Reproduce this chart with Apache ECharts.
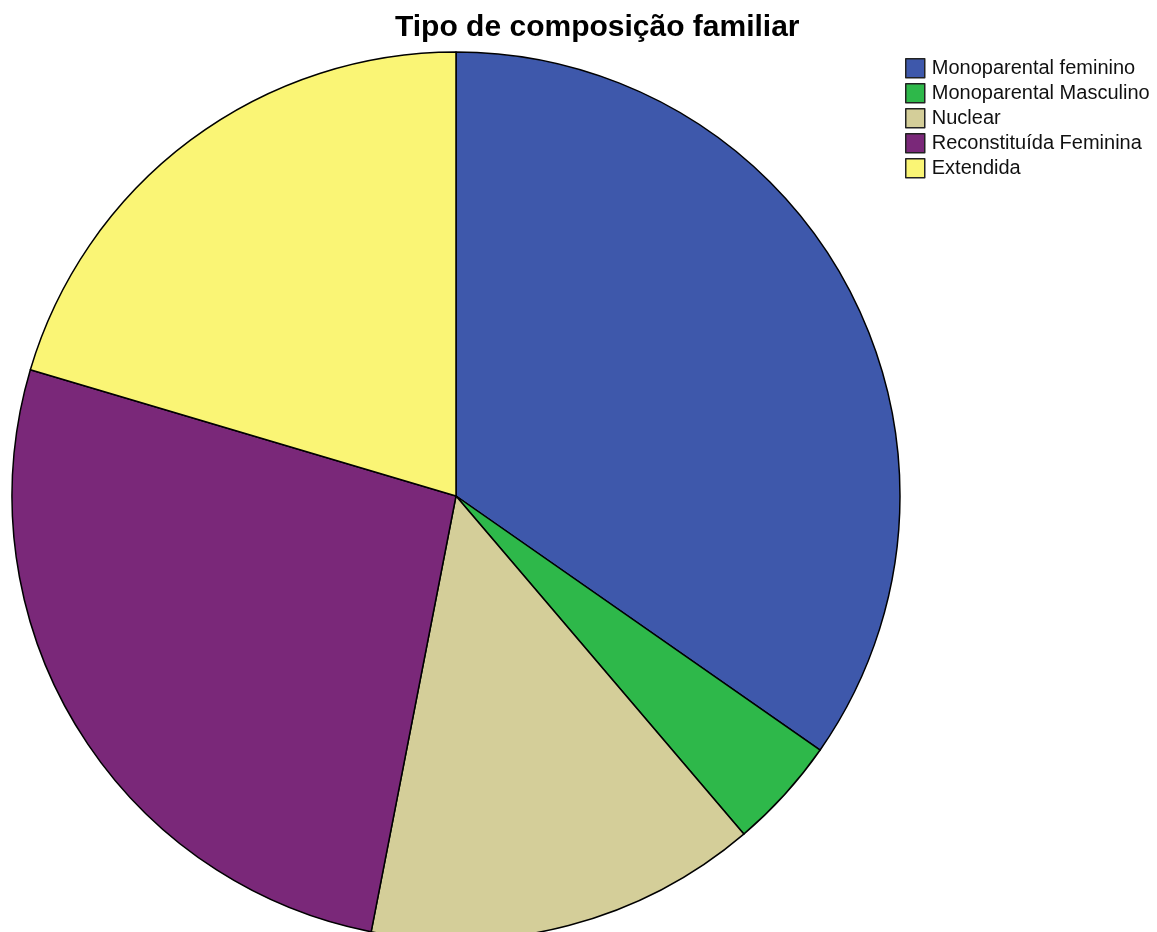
<!DOCTYPE html>
<html>
<head>
<meta charset="utf-8">
<style>
  html, body { margin: 0; padding: 0; background: #fff; }
  #chart { width: 1157px; height: 932px; }
</style>
<script src="https://cdn.jsdelivr.net/npm/echarts@6/dist/echarts.min.js"></script>
</head>
<body>
<div id="chart"></div>
<script>
// categorias e contagens
var categories = ['Monoparental feminino', 'Monoparental Masculino', 'Nuclear', 'Reconstituída Feminina', 'Extendida']
var counts = [17, 2, 7, 13, 10]
var colors = ['#3E58AB', '#2EB84A', '#D4CE99', '#7A2879', '#FAF575']

var chart = echarts.init(document.getElementById('chart'))
var option = {
  animation: false,
  backgroundColor: '#fff',
  color: colors,
  title: {
    text: 'Tipo de composição familiar',
    left: 390,
    top: 8,
    textStyle: {
      fontFamily: 'Liberation Sans',
      fontSize: 30,
      fontWeight: 'bold',
      color: '#000'
    }
  },
  legend: {
    orient: 'vertical',
    left: 900,
    top: 53,
    itemWidth: 19,
    itemHeight: 19,
    itemGap: 4.5,
    icon: 'rect',
    selectedMode: false,
    data: categories,
    itemStyle: {
      borderColor: '#222',
      borderWidth: 1.5
    },
    textStyle: {
      fontFamily: 'Liberation Sans',
      fontSize: 20,
      color: '#111',
      padding: [0, 0, 0, 2]
    }
  },
  series: [
    {
      type: 'pie',
      center: [456, 496],
      radius: 444,
      startAngle: 90,
      clockwise: true,
      label: { show: false },
      labelLine: { show: false },
      emphasis: { disabled: true },
      itemStyle: {
        borderColor: '#000',
        borderWidth: 1.5
      },
      data: categories.map(function (name, i) {
        return { name: name, value: counts[i] }
      })
    }
  ]
}
chart.setOption(option)
</script>
</body>
</html>
